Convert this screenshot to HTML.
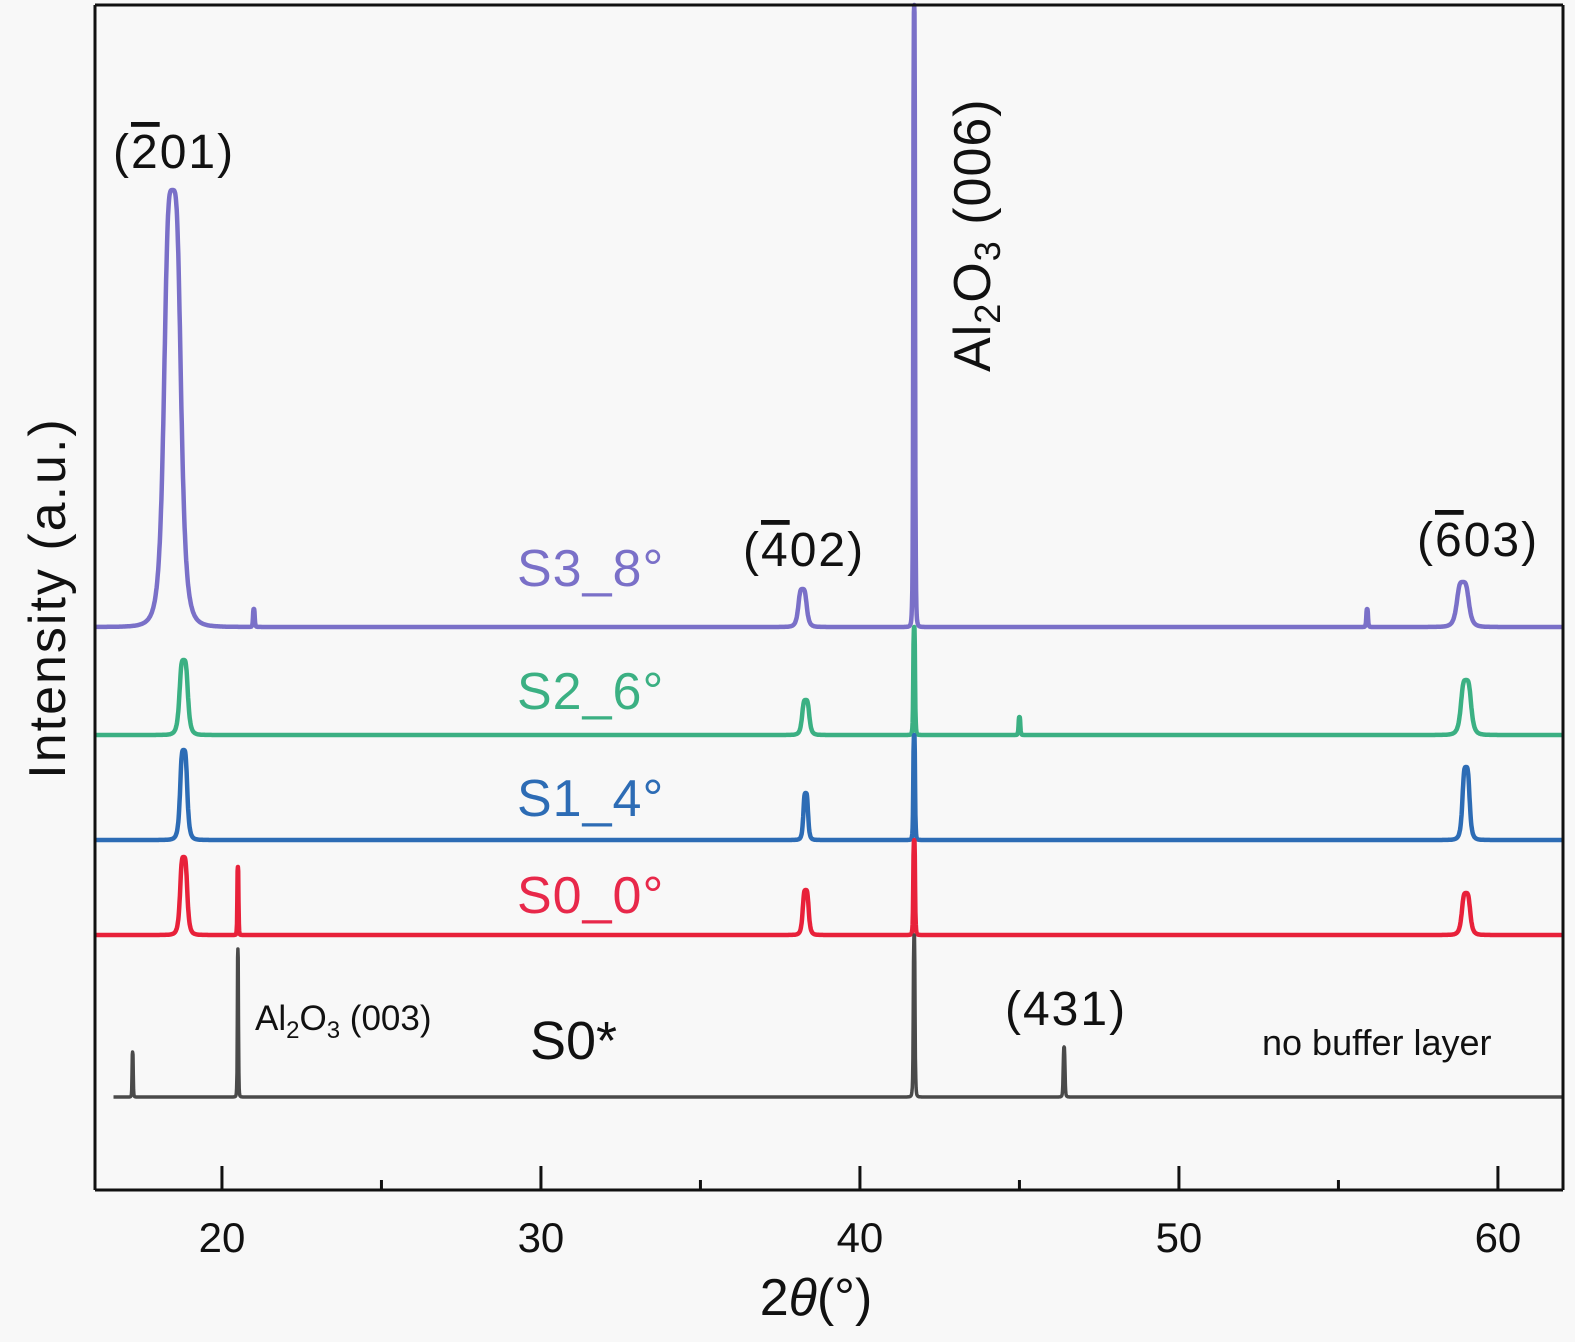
<!DOCTYPE html>
<html><head><meta charset="utf-8"><style>
html,body{margin:0;padding:0;background:#f8f8f8;overflow:hidden;}
svg{display:block;font-family:"Liberation Sans","DejaVu Sans",sans-serif;}
</style></head><body>
<svg id="chart" width="1575" height="1342" viewBox="0 0 1575 1342">
<rect x="0" y="0" width="1575" height="1342" fill="#f8f8f8"/>
<g id="series"></g>
<g id="axes"></g>
<text x="113" y="168" font-size="48" letter-spacing="2" fill="#111">(<tspan style="text-decoration:overline">2</tspan>01)</text>
<text x="743" y="566" font-size="48" letter-spacing="2" fill="#111">(<tspan style="text-decoration:overline">4</tspan>02)</text>
<text x="1417" y="556" font-size="48" letter-spacing="2" fill="#111">(<tspan style="text-decoration:overline">6</tspan>03)</text>
<text x="1005" y="1025" font-size="48" letter-spacing="2" fill="#111">(431)</text>
<text transform="translate(990,372) rotate(-90)" font-size="52" letter-spacing="1" fill="#111">Al<tspan font-size="36" dy="10">2</tspan><tspan dy="-10">O</tspan><tspan font-size="36" dy="10">3</tspan><tspan dy="-10"> (006)</tspan></text>
<text x="255" y="1030" font-size="35" fill="#111">Al<tspan font-size="24" dy="8">2</tspan><tspan dy="-8">O</tspan><tspan font-size="24" dy="8">3</tspan><tspan dy="-8"> (003)</tspan></text>
<text x="1262" y="1055" font-size="36" fill="#111">no buffer layer</text>
<text x="517" y="586" font-size="52" letter-spacing="1" fill="#7a70c8">S3_8°</text>
<text x="517" y="709" font-size="52" letter-spacing="1" fill="#3bb083">S2_6°</text>
<text x="517" y="816" font-size="52" letter-spacing="1" fill="#2d6cb5">S1_4°</text>
<text x="517" y="913" font-size="52" letter-spacing="1" fill="#e8284a">S0_0°</text>
<text x="530" y="1059" font-size="54" fill="#111">S0*</text>
<text transform="translate(65,598) rotate(-90)" text-anchor="middle" font-size="52" letter-spacing="2" fill="#111">Intensity (a.u.)</text>
<text x="816" y="1315" text-anchor="middle" font-size="52" fill="#111">2<tspan font-style="italic">θ</tspan>(°)</text>
</svg>
<script>
const seriesNames = ["S3_8°","S2_6°","S1_4°","S0_0°","S0*"];
const seriesColors = ["#7a70c8","#3bb083","#2d6cb5","#e8213a","#4a4a4a"];
const baselines = [627,735,840,935,1097];
const peakPos = [
  [18.45,21.0,38.2,41.7,55.9,58.9],
  [18.8,38.3,41.7,45.0,59.0],
  [18.8,38.3,41.7,59.0],
  [18.8,20.5,38.3,41.7,59.0],
  [17.2,20.5,41.7,46.4]
];
const peakHeights = [
  [437,18,38,622,18,45],
  [75,35,108,18,55],
  [90,47,105,73],
  [78,68,45,95,42],
  [45,148,162,50]
];
const peakWidths = [
  [0.28,0.03,0.14,0.03,0.03,0.2],
  [0.14,0.12,0.03,0.03,0.17],
  [0.12,0.08,0.03,0.12],
  [0.12,0.02,0.1,0.03,0.14],
  [0.02,0.02,0.03,0.03]
];
const startX = [16.0,16.0,16.0,16.0,16.6];
const xTicks = [20,30,40,50,60];
const xMinorTicks = [25,35,45,55];
const X0=95,X1=1563,Y0=5,Y1=1190,XMIN=16.02,XMAX=62.04;
function xs(v){return X0+(v-XMIN)/(XMAX-XMIN)*(X1-X0);}
const NS="http://www.w3.org/2000/svg";
const sg=document.getElementById('series');
for(let s=0;s<seriesNames.length;s++){
  let d="";
  for(let t=startX[s];t<=62.0;t+=0.01){
    let y=baselines[s];
    for(let k=0;k<peakPos[s].length;k++){
      const w=peakWidths[s][k];const u=(t-peakPos[s][k])/w;
      y-=peakHeights[s][k]/(1+u*u*u*u);
    }
    d+=(d?"L":"M")+xs(t).toFixed(1)+","+y.toFixed(1);
  }
  const p=document.createElementNS(NS,'path');
  p.setAttribute('d',d);p.setAttribute('fill','none');
  p.setAttribute('stroke',seriesColors[s]);p.setAttribute('stroke-width',s===4?3.5:4.5);
  p.setAttribute('stroke-linejoin','round');
  
  
  sg.appendChild(p);
}
const ag=document.getElementById('axes');
function line(x1,y1,x2,y2,w,name){
  const l=document.createElementNS(NS,'line');
  l.setAttribute('x1',x1);l.setAttribute('y1',y1);l.setAttribute('x2',x2);l.setAttribute('y2',y2);
  l.setAttribute('stroke','#111');l.setAttribute('stroke-width',w);
  
  
  ag.appendChild(l);
}
line(X0,Y0,X1,Y0,3,'plot-frame-top');
line(X0,Y0,X0,Y1,3,'y-axis-line');
line(X1,Y0,X1,Y1,3,'plot-frame-right');
line(X0,Y1,X1,Y1,3,'x-axis-line');
xTicks.forEach(v=>{
  line(xs(v),Y1,xs(v),Y1-24,3,'x-major-tick');
  const t=document.createElementNS(NS,'text');
  t.setAttribute('x',xs(v));t.setAttribute('y',1252);t.setAttribute('text-anchor','middle');
  t.setAttribute('font-size','42');t.setAttribute('fill','#111');t.textContent=v;
  
  
  ag.appendChild(t);
});
xMinorTicks.forEach(v=>line(xs(v),Y1,xs(v),Y1-10,3,'x-minor-tick'));
</script>
</body></html>
